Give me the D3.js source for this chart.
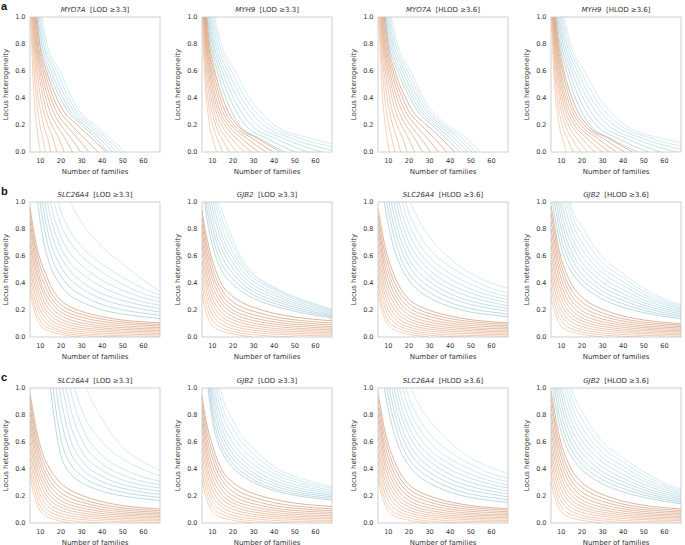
<!DOCTYPE html>
<html>
<head>
<meta charset="utf-8">
<script src="https://cdn.jsdelivr.net/npm/d3@7"></script>
<style>
  body { margin: 0; background: #fff; }
  svg { display: block; }
  text { font-family: "DejaVu Sans", sans-serif; fill: #333; }
</style>
</head>
<body>
<svg id="chart" width="685" height="545"></svg>
<script>
// titles
const geneNames = ["MYO7A", "MYH9", "MYO7A", "MYH9",
                   "SLC26A4", "GJB2", "SLC26A4", "GJB2",
                   "SLC26A4", "GJB2", "SLC26A4", "GJB2"]
const thresholds = ["[LOD \u22653.3]", "[LOD \u22653.3]", "[HLOD \u22653.6]", "[HLOD \u22653.6]",
                    "[LOD \u22653.3]", "[LOD \u22653.3]", "[HLOD \u22653.6]", "[HLOD \u22653.6]",
                    "[LOD \u22653.3]", "[LOD \u22653.3]", "[HLOD \u22653.6]", "[HLOD \u22653.6]"]
const rowLetters = ["a", "b", "c"]
const familyTicks = [10, 20, 30, 40, 50, 60]
const hetTicks = [0.0, 0.2, 0.4, 0.6, 0.8, 1.0]

// row a: number of families read at these heterogeneity levels
const hetLevels = [1.0, 0.8, 0.6, 0.4, 0.3, 0.2, 0.1, 0.0]
// rows b and c: heterogeneity read at these numbers of families
const familyLevels = [5, 6, 8, 10, 12, 15, 20, 25, 30, 40, 50, 60, 68]

// ---------- row a ----------
const a1Orange = [
    [5.3, 5.8, 6.3, 7.0, 7.5, 8.2, 9.0, 10.0],
    [5.6, 6.2, 7.0, 8.0, 8.8, 9.8, 11.2, 12.5],
    [5.9, 6.6, 7.7, 9.0, 10.2, 11.6, 13.6, 15.0],
    [6.2, 7.0, 8.4, 10.2, 11.6, 13.6, 16.2, 18.0],
    [6.5, 7.4, 9.1, 11.4, 13.0, 15.6, 19.0, 21.5],
    [6.8, 7.8, 9.8, 12.6, 14.6, 17.8, 22.0, 25.5],
    [7.1, 8.2, 10.5, 13.8, 16.2, 20.0, 25.0, 29.5],
    [7.5, 8.6, 11.3, 15.0, 17.8, 22.4, 28.2, 33.5],
    [7.9, 9.1, 12.1, 16.4, 19.6, 25.0, 31.5, 38.0],
    [8.4, 9.7, 13.0, 18.0, 21.5, 28.0, 35.0, 42.0]
]
const a1Blue = [
    [8.2, 10.0, 14.0, 19.7, 23.5, 30.0, 37.0, 43.0],
    [8.8, 10.8, 15.2, 21.0, 24.8, 31.5, 38.8, 45.0],
    [9.4, 11.6, 16.6, 22.4, 26.2, 33.2, 40.5, 47.0],
    [10.1, 12.4, 18.0, 23.8, 27.6, 34.8, 42.2, 49.0],
    [10.8, 13.3, 19.5, 25.3, 29.0, 36.5, 44.0, 51.0]
]
const a2Orange = [
    [5.2, 5.6, 6.2, 7.0, 7.8, 8.6, 10.2, 12.0],
    [5.4, 5.9, 6.7, 7.8, 8.8, 10.1, 12.4, 15.0],
    [5.6, 6.2, 7.2, 8.6, 9.8, 11.6, 14.6, 18.5],
    [5.8, 6.5, 7.7, 9.4, 10.8, 13.0, 16.9, 22.0],
    [6.0, 6.8, 8.2, 10.2, 11.8, 14.5, 19.3, 25.5],
    [6.2, 7.1, 8.7, 11.0, 12.8, 16.0, 21.7, 29.0],
    [6.4, 7.4, 9.2, 11.8, 13.8, 17.5, 24.2, 32.5],
    [6.7, 7.8, 9.8, 12.8, 15.0, 19.0, 26.8, 36.0],
    [7.0, 8.2, 10.5, 13.8, 16.2, 20.5, 29.5, 39.5],
    [7.3, 8.7, 11.2, 15.0, 17.6, 22.0, 32.0, 43.0]
]
const a2Blue = [
    [7.6, 9.3, 12.4, 16.5, 19.4, 23.0, 33.0, 45.0],
    [8.1, 10.0, 13.6, 18.4, 21.6, 26.0, 36.5, 50.0],
    [8.6, 10.7, 14.9, 20.3, 23.9, 28.8, 40.5, 56.0],
    [9.2, 11.5, 16.2, 22.2, 26.2, 31.8, 44.5, 63.0],
    [9.8, 12.4, 17.6, 24.1, 28.5, 34.8, 48.5, 72.0],
    [10.5, 13.3, 19.2, 26.0, 30.8, 37.5, 53.0, 85.0],
    [11.2, 14.3, 21.0, 28.0, 33.2, 40.0, 58.0, 100.0]
]
const a3Orange = [
    [5.4, 5.9, 6.5, 7.2, 7.8, 8.5, 9.4, 10.5],
    [5.7, 6.3, 7.2, 8.3, 9.1, 10.2, 11.7, 13.2],
    [6.0, 6.7, 7.9, 9.4, 10.6, 12.1, 14.2, 16.0],
    [6.3, 7.1, 8.6, 10.6, 12.0, 14.2, 17.0, 19.2],
    [6.6, 7.5, 9.3, 11.8, 13.5, 16.3, 19.8, 22.8],
    [6.9, 7.9, 10.0, 13.0, 15.1, 18.5, 22.8, 26.6],
    [7.2, 8.3, 10.7, 14.2, 16.7, 20.7, 25.8, 30.4],
    [7.6, 8.8, 11.5, 15.5, 18.3, 23.1, 29.0, 34.3],
    [8.0, 9.3, 12.3, 16.9, 20.1, 25.7, 32.4, 38.2],
    [8.5, 9.9, 13.2, 18.4, 22.0, 28.6, 35.8, 42.0]
]
const a3Blue = [
    [8.4, 10.3, 14.5, 20.5, 24.4, 31.0, 38.0, 44.5],
    [9.0, 11.1, 15.7, 21.8, 25.8, 32.6, 40.0, 46.5],
    [9.6, 11.9, 16.9, 23.1, 27.2, 34.2, 42.0, 48.5],
    [10.2, 12.7, 18.1, 24.4, 28.6, 35.6, 44.0, 50.5],
    [10.8, 13.5, 19.4, 25.7, 30.0, 37.0, 46.0, 52.5],
    [11.5, 14.4, 20.8, 27.0, 31.5, 38.5, 48.0, 54.5]
]
const a4Orange = [
    [5.2, 5.7, 6.3, 7.2, 8.0, 8.9, 10.6, 12.5],
    [5.4, 6.0, 6.8, 8.0, 9.0, 10.4, 12.9, 15.8],
    [5.6, 6.3, 7.3, 8.8, 10.0, 11.9, 15.2, 19.3],
    [5.8, 6.6, 7.8, 9.6, 11.0, 13.4, 17.5, 22.8],
    [6.0, 6.9, 8.3, 10.4, 12.0, 14.9, 20.0, 26.3],
    [6.2, 7.2, 8.8, 11.2, 13.0, 16.4, 22.5, 29.8],
    [6.4, 7.5, 9.3, 12.0, 14.1, 17.9, 25.0, 33.3],
    [6.7, 7.9, 9.9, 13.0, 15.3, 19.5, 27.6, 36.8],
    [7.0, 8.3, 10.6, 14.0, 16.5, 21.0, 30.3, 40.5],
    [7.3, 8.8, 11.3, 15.2, 18.0, 22.5, 33.0, 44.5]
]
const a4Blue = [
    [7.7, 9.4, 12.6, 16.8, 19.8, 23.8, 34.0, 47.0],
    [8.2, 10.1, 13.8, 18.7, 22.0, 26.8, 37.5, 52.0],
    [8.7, 10.9, 15.1, 20.6, 24.3, 29.6, 41.5, 58.0],
    [9.3, 11.7, 16.4, 22.5, 26.6, 32.6, 45.5, 66.0],
    [9.9, 12.6, 17.8, 24.4, 28.9, 35.6, 49.5, 76.0],
    [10.6, 13.5, 19.4, 26.3, 31.2, 38.3, 54.0, 90.0],
    [11.3, 14.5, 21.2, 28.3, 33.6, 40.8, 59.0, 110.0]
]

// ---------- row b ----------
const b1Orange = [
    [0.34, 0.26, 0.15, 0.09, 0.06, 0.04, 0.02, 0.008, 0.0, null, null, null, null],
    [0.40, 0.31, 0.19, 0.12, 0.085, 0.06, 0.035, 0.02, 0.012, 0.004, 0.0, null, null],
    [0.46, 0.37, 0.24, 0.16, 0.115, 0.08, 0.05, 0.034, 0.025, 0.015, 0.01, 0.007, 0.005],
    [0.52, 0.43, 0.29, 0.20, 0.15, 0.105, 0.068, 0.05, 0.04, 0.028, 0.022, 0.018, 0.016],
    [0.58, 0.48, 0.34, 0.245, 0.185, 0.13, 0.088, 0.066, 0.055, 0.041, 0.034, 0.029, 0.027],
    [0.64, 0.54, 0.39, 0.29, 0.22, 0.16, 0.11, 0.084, 0.07, 0.054, 0.045, 0.04, 0.037],
    [0.70, 0.60, 0.44, 0.335, 0.26, 0.19, 0.133, 0.103, 0.087, 0.067, 0.057, 0.051, 0.048],
    [0.76, 0.65, 0.49, 0.38, 0.30, 0.225, 0.158, 0.124, 0.105, 0.081, 0.069, 0.062, 0.059],
    [0.81, 0.71, 0.54, 0.42, 0.34, 0.26, 0.185, 0.147, 0.125, 0.097, 0.082, 0.074, 0.07],
    [0.86, 0.76, 0.59, 0.47, 0.39, 0.295, 0.212, 0.17, 0.146, 0.114, 0.097, 0.087, 0.082],
    [0.91, 0.81, 0.64, 0.52, 0.44, 0.335, 0.24, 0.195, 0.168, 0.132, 0.111, 0.099, 0.093],
    [0.96, 0.86, 0.69, 0.57, 0.49, 0.38, 0.27, 0.22, 0.19, 0.15, 0.125, 0.112, 0.105]
]
const b1Blue = [
    [null, null, 1.08, 0.85, 0.68, 0.52, 0.38, 0.30, 0.26, 0.20, 0.17, 0.15, 0.135],
    [null, null, 1.25, 0.98, 0.80, 0.61, 0.45, 0.36, 0.31, 0.24, 0.20, 0.177, 0.16],
    [null, null, null, 1.10, 0.90, 0.70, 0.52, 0.42, 0.36, 0.28, 0.235, 0.205, 0.185],
    [null, null, null, 1.22, 1.01, 0.79, 0.59, 0.48, 0.41, 0.32, 0.27, 0.233, 0.21],
    [null, null, null, null, 1.12, 0.89, 0.66, 0.54, 0.47, 0.37, 0.305, 0.26, 0.235],
    [null, null, null, null, 1.23, 0.99, 0.74, 0.61, 0.53, 0.42, 0.345, 0.29, 0.26],
    [null, null, null, null, null, 1.10, 0.83, 0.69, 0.60, 0.48, 0.39, 0.32, 0.285],
    [null, null, null, null, null, 1.22, 0.93, 0.77, 0.67, 0.54, 0.44, 0.36, 0.31],
    [null, null, null, null, null, null, 1.15, 0.98, 0.85, 0.665, 0.54, 0.42, 0.335]
]
const b2Orange = [
    [0.32, 0.24, 0.14, 0.085, 0.06, 0.04, 0.022, 0.01, 0.0, null, null, null, null],
    [0.38, 0.30, 0.19, 0.125, 0.09, 0.064, 0.04, 0.026, 0.017, 0.006, 0.0, null, null],
    [0.44, 0.36, 0.24, 0.165, 0.125, 0.09, 0.06, 0.043, 0.033, 0.021, 0.014, 0.01, 0.008],
    [0.50, 0.42, 0.29, 0.21, 0.16, 0.118, 0.082, 0.062, 0.05, 0.035, 0.027, 0.022, 0.02],
    [0.56, 0.48, 0.34, 0.25, 0.195, 0.146, 0.104, 0.081, 0.067, 0.049, 0.04, 0.034, 0.031],
    [0.62, 0.53, 0.39, 0.29, 0.23, 0.175, 0.127, 0.10, 0.084, 0.064, 0.053, 0.046, 0.042],
    [0.68, 0.59, 0.44, 0.335, 0.27, 0.205, 0.15, 0.12, 0.102, 0.079, 0.066, 0.058, 0.053],
    [0.74, 0.64, 0.49, 0.38, 0.31, 0.24, 0.176, 0.142, 0.122, 0.095, 0.08, 0.07, 0.065],
    [0.79, 0.69, 0.54, 0.43, 0.35, 0.27, 0.20, 0.165, 0.142, 0.112, 0.094, 0.083, 0.077],
    [0.84, 0.74, 0.59, 0.47, 0.39, 0.305, 0.228, 0.19, 0.165, 0.13, 0.11, 0.097, 0.09],
    [0.89, 0.79, 0.64, 0.52, 0.43, 0.34, 0.26, 0.215, 0.19, 0.15, 0.127, 0.112, 0.104],
    [0.94, 0.84, 0.69, 0.57, 0.48, 0.38, 0.30, 0.25, 0.22, 0.175, 0.148, 0.13, 0.12]
]
const b2Blue = [
    [1.25, 1.05, 0.82, 0.68, 0.58, 0.48, 0.39, 0.33, 0.285, 0.23, 0.19, 0.16, 0.14],
    [1.35, 1.15, 0.90, 0.75, 0.64, 0.53, 0.43, 0.36, 0.31, 0.25, 0.205, 0.172, 0.148],
    [null, 1.26, 0.98, 0.82, 0.70, 0.585, 0.47, 0.39, 0.335, 0.27, 0.22, 0.183, 0.156],
    [null, null, 1.07, 0.89, 0.76, 0.64, 0.51, 0.42, 0.36, 0.29, 0.235, 0.195, 0.165],
    [null, null, 1.16, 0.96, 0.83, 0.69, 0.55, 0.45, 0.385, 0.31, 0.25, 0.207, 0.174],
    [null, null, 1.26, 1.04, 0.89, 0.74, 0.59, 0.48, 0.41, 0.33, 0.265, 0.219, 0.183],
    [null, null, null, 1.12, 0.96, 0.80, 0.63, 0.51, 0.435, 0.35, 0.28, 0.23, 0.192],
    [null, null, null, 1.20, 1.02, 0.86, 0.675, 0.535, 0.455, 0.36, 0.29, 0.238, 0.198],
    [null, null, null, null, 1.07, 0.92, 0.72, 0.56, 0.47, 0.37, 0.30, 0.245, 0.205]
]
const b3Orange = [
    [0.33, 0.25, 0.145, 0.088, 0.06, 0.04, 0.02, 0.008, 0.0, null, null, null, null],
    [0.39, 0.30, 0.185, 0.12, 0.087, 0.062, 0.037, 0.022, 0.013, 0.004, 0.0, null, null],
    [0.45, 0.36, 0.235, 0.16, 0.12, 0.085, 0.054, 0.037, 0.027, 0.016, 0.011, 0.008, 0.006],
    [0.51, 0.42, 0.285, 0.20, 0.155, 0.11, 0.073, 0.054, 0.043, 0.03, 0.023, 0.019, 0.017],
    [0.57, 0.48, 0.335, 0.245, 0.19, 0.137, 0.093, 0.071, 0.058, 0.043, 0.035, 0.03, 0.028],
    [0.63, 0.54, 0.385, 0.29, 0.228, 0.166, 0.115, 0.089, 0.074, 0.056, 0.047, 0.041, 0.038],
    [0.69, 0.60, 0.44, 0.335, 0.268, 0.197, 0.138, 0.108, 0.091, 0.07, 0.059, 0.052, 0.049],
    [0.75, 0.66, 0.49, 0.38, 0.31, 0.232, 0.163, 0.13, 0.11, 0.085, 0.071, 0.063, 0.06],
    [0.80, 0.71, 0.54, 0.43, 0.35, 0.268, 0.19, 0.153, 0.13, 0.101, 0.085, 0.076, 0.071],
    [0.85, 0.76, 0.59, 0.48, 0.395, 0.305, 0.218, 0.177, 0.152, 0.118, 0.099, 0.088, 0.082],
    [0.90, 0.81, 0.645, 0.53, 0.44, 0.345, 0.248, 0.202, 0.174, 0.136, 0.114, 0.101, 0.094],
    [0.95, 0.87, 0.70, 0.58, 0.49, 0.385, 0.28, 0.228, 0.197, 0.155, 0.128, 0.113, 0.105]
]
const b3Blue = [
    [null, null, 1.0, 0.83, 0.70, 0.56, 0.42, 0.34, 0.29, 0.225, 0.185, 0.163, 0.15],
    [null, null, 1.12, 0.93, 0.79, 0.63, 0.47, 0.385, 0.33, 0.255, 0.21, 0.185, 0.17],
    [null, null, 1.24, 1.03, 0.87, 0.70, 0.53, 0.43, 0.37, 0.29, 0.24, 0.21, 0.19],
    [null, null, null, 1.13, 0.96, 0.77, 0.58, 0.475, 0.41, 0.32, 0.265, 0.232, 0.21],
    [null, null, null, 1.24, 1.05, 0.85, 0.64, 0.525, 0.45, 0.355, 0.295, 0.256, 0.232],
    [null, null, null, null, 1.14, 0.93, 0.70, 0.575, 0.495, 0.39, 0.325, 0.28, 0.255],
    [null, null, null, null, 1.24, 1.01, 0.77, 0.63, 0.54, 0.43, 0.355, 0.305, 0.278],
    [null, null, null, null, null, 1.10, 0.84, 0.69, 0.59, 0.47, 0.39, 0.33, 0.30],
    [null, null, null, null, null, 1.20, 0.92, 0.76, 0.65, 0.52, 0.43, 0.36, 0.325],
    [null, null, null, null, null, null, 1.02, 0.86, 0.74, 0.58, 0.47, 0.40, 0.36]
]
const b4Orange = [
    [0.30, 0.23, 0.135, 0.08, 0.055, 0.036, 0.02, 0.009, 0.0, null, null, null, null],
    [0.37, 0.29, 0.18, 0.12, 0.085, 0.06, 0.037, 0.024, 0.015, 0.005, 0.0, null, null],
    [0.44, 0.35, 0.23, 0.16, 0.118, 0.085, 0.056, 0.04, 0.03, 0.018, 0.012, 0.008, 0.006],
    [0.50, 0.41, 0.28, 0.20, 0.152, 0.112, 0.077, 0.058, 0.046, 0.032, 0.024, 0.019, 0.017],
    [0.56, 0.47, 0.33, 0.245, 0.188, 0.14, 0.098, 0.076, 0.062, 0.045, 0.035, 0.03, 0.027],
    [0.62, 0.53, 0.38, 0.29, 0.225, 0.168, 0.12, 0.094, 0.078, 0.058, 0.047, 0.04, 0.037],
    [0.68, 0.59, 0.435, 0.335, 0.265, 0.2, 0.143, 0.113, 0.095, 0.071, 0.058, 0.05, 0.047],
    [0.74, 0.65, 0.49, 0.38, 0.305, 0.233, 0.168, 0.134, 0.113, 0.085, 0.07, 0.061, 0.057],
    [0.80, 0.71, 0.545, 0.43, 0.35, 0.27, 0.195, 0.157, 0.133, 0.10, 0.082, 0.072, 0.067],
    [0.86, 0.77, 0.60, 0.48, 0.395, 0.305, 0.225, 0.182, 0.155, 0.117, 0.096, 0.084, 0.077],
    [0.92, 0.83, 0.655, 0.53, 0.44, 0.345, 0.26, 0.21, 0.178, 0.135, 0.11, 0.096, 0.087],
    [0.97, 0.89, 0.71, 0.58, 0.49, 0.39, 0.295, 0.24, 0.205, 0.155, 0.126, 0.108, 0.097]
]
const b4Blue = [
    [1.15, 0.98, 0.80, 0.66, 0.57, 0.48, 0.385, 0.325, 0.28, 0.22, 0.18, 0.152, 0.135],
    [1.30, 1.10, 0.88, 0.73, 0.63, 0.53, 0.425, 0.36, 0.31, 0.245, 0.198, 0.166, 0.148],
    [null, 1.22, 0.96, 0.80, 0.69, 0.58, 0.465, 0.395, 0.34, 0.27, 0.217, 0.18, 0.16],
    [null, null, 1.04, 0.87, 0.75, 0.63, 0.51, 0.43, 0.37, 0.295, 0.236, 0.195, 0.172],
    [null, null, 1.12, 0.94, 0.81, 0.69, 0.555, 0.47, 0.405, 0.32, 0.255, 0.21, 0.184],
    [null, null, 1.21, 1.01, 0.88, 0.745, 0.60, 0.51, 0.44, 0.35, 0.275, 0.225, 0.196],
    [null, null, null, 1.09, 0.95, 0.80, 0.65, 0.55, 0.475, 0.38, 0.295, 0.24, 0.208],
    [null, null, null, 1.17, 1.02, 0.86, 0.70, 0.59, 0.51, 0.41, 0.315, 0.252, 0.218],
    [null, null, null, 1.25, 1.09, 0.91, 0.76, 0.64, 0.55, 0.44, 0.338, 0.266, 0.229],
    [null, null, null, null, 1.15, 0.96, 0.82, 0.69, 0.59, 0.47, 0.36, 0.28, 0.24]
]

// ---------- row c ----------
const c1Orange = [
    [0.36, 0.27, 0.155, 0.09, 0.058, 0.035, 0.015, 0.0, null, null, null, null, null],
    [0.42, 0.33, 0.20, 0.125, 0.085, 0.055, 0.03, 0.017, 0.009, 0.0, null, null, null],
    [0.48, 0.39, 0.25, 0.165, 0.118, 0.08, 0.05, 0.035, 0.026, 0.015, 0.009, 0.006, 0.004],
    [0.54, 0.45, 0.30, 0.205, 0.152, 0.107, 0.071, 0.053, 0.042, 0.029, 0.022, 0.018, 0.016],
    [0.60, 0.51, 0.35, 0.25, 0.19, 0.136, 0.093, 0.071, 0.058, 0.042, 0.034, 0.029, 0.027],
    [0.66, 0.56, 0.40, 0.295, 0.228, 0.166, 0.116, 0.09, 0.075, 0.056, 0.046, 0.04, 0.037],
    [0.72, 0.62, 0.45, 0.34, 0.268, 0.198, 0.14, 0.11, 0.093, 0.07, 0.058, 0.051, 0.047],
    [0.77, 0.67, 0.50, 0.385, 0.31, 0.232, 0.166, 0.131, 0.112, 0.085, 0.07, 0.062, 0.058],
    [0.82, 0.72, 0.55, 0.43, 0.35, 0.268, 0.194, 0.154, 0.132, 0.101, 0.083, 0.073, 0.068],
    [0.87, 0.77, 0.60, 0.475, 0.39, 0.305, 0.224, 0.18, 0.154, 0.118, 0.097, 0.085, 0.079],
    [0.92, 0.82, 0.65, 0.52, 0.435, 0.345, 0.257, 0.208, 0.178, 0.136, 0.112, 0.098, 0.091],
    [0.96, 0.87, 0.70, 0.57, 0.48, 0.39, 0.295, 0.24, 0.205, 0.158, 0.128, 0.112, 0.104]
]
const c1Blue = [
    [null, null, null, null, 1.45, 0.99, 0.50, 0.36, 0.30, 0.235, 0.20, 0.18, 0.166],
    [null, null, null, null, 1.60, 1.15, 0.62, 0.43, 0.35, 0.27, 0.228, 0.203, 0.19],
    [null, null, null, null, null, 1.30, 0.77, 0.51, 0.405, 0.305, 0.256, 0.227, 0.213],
    [null, null, null, null, null, 1.45, 0.92, 0.60, 0.465, 0.345, 0.285, 0.252, 0.236],
    [null, null, null, null, null, null, 1.07, 0.71, 0.535, 0.39, 0.318, 0.278, 0.26],
    [null, null, null, null, null, null, 1.22, 0.83, 0.62, 0.44, 0.355, 0.306, 0.285],
    [null, null, null, null, null, null, 1.38, 0.96, 0.72, 0.50, 0.40, 0.34, 0.31],
    [null, null, null, null, null, null, null, 1.08, 0.84, 0.60, 0.475, 0.395, 0.35],
    [null, null, null, null, null, null, null, 1.50, 1.12, 0.77, 0.56, 0.45, 0.39]
]
const c2Orange = [
    [0.32, 0.24, 0.14, 0.085, 0.058, 0.038, 0.02, 0.009, 0.0, null, null, null, null],
    [0.38, 0.30, 0.185, 0.12, 0.087, 0.061, 0.037, 0.024, 0.015, 0.005, 0.0, null, null],
    [0.44, 0.36, 0.235, 0.16, 0.12, 0.087, 0.057, 0.041, 0.031, 0.019, 0.013, 0.009, 0.007],
    [0.50, 0.42, 0.285, 0.20, 0.155, 0.114, 0.079, 0.06, 0.048, 0.034, 0.026, 0.021, 0.019],
    [0.56, 0.48, 0.335, 0.245, 0.19, 0.142, 0.101, 0.079, 0.065, 0.048, 0.039, 0.033, 0.03],
    [0.62, 0.53, 0.385, 0.29, 0.228, 0.172, 0.124, 0.098, 0.082, 0.062, 0.051, 0.045, 0.042],
    [0.68, 0.59, 0.435, 0.335, 0.268, 0.203, 0.148, 0.118, 0.10, 0.077, 0.064, 0.057, 0.053],
    [0.74, 0.64, 0.485, 0.38, 0.31, 0.237, 0.174, 0.14, 0.12, 0.093, 0.078, 0.07, 0.065],
    [0.79, 0.69, 0.535, 0.43, 0.35, 0.272, 0.202, 0.164, 0.142, 0.11, 0.093, 0.083, 0.078],
    [0.84, 0.74, 0.585, 0.48, 0.395, 0.31, 0.232, 0.19, 0.165, 0.129, 0.109, 0.097, 0.091],
    [0.89, 0.79, 0.635, 0.53, 0.44, 0.348, 0.265, 0.218, 0.19, 0.15, 0.126, 0.112, 0.105],
    [0.94, 0.84, 0.685, 0.58, 0.485, 0.385, 0.30, 0.25, 0.218, 0.175, 0.147, 0.131, 0.122]
]
const c2Blue = [
    [null, 1.30, 0.99, 0.76, 0.63, 0.515, 0.41, 0.345, 0.30, 0.24, 0.205, 0.183, 0.17],
    [null, 1.40, 1.07, 0.82, 0.68, 0.555, 0.44, 0.37, 0.32, 0.255, 0.218, 0.195, 0.182],
    [null, null, 1.15, 0.88, 0.73, 0.60, 0.475, 0.40, 0.345, 0.275, 0.233, 0.208, 0.194],
    [null, null, 1.24, 0.95, 0.79, 0.645, 0.51, 0.43, 0.37, 0.295, 0.249, 0.221, 0.206],
    [null, null, 1.33, 1.02, 0.85, 0.69, 0.55, 0.465, 0.40, 0.315, 0.266, 0.235, 0.218],
    [null, null, null, 1.10, 0.91, 0.74, 0.595, 0.50, 0.435, 0.34, 0.285, 0.25, 0.231],
    [null, null, null, 1.19, 0.98, 0.80, 0.645, 0.54, 0.47, 0.365, 0.305, 0.265, 0.244],
    [null, null, null, 1.30, 1.06, 0.86, 0.70, 0.585, 0.51, 0.39, 0.325, 0.282, 0.257],
    [null, null, null, 1.45, 1.15, 0.93, 0.76, 0.63, 0.55, 0.415, 0.345, 0.30, 0.27]
]
const c3Orange = [
    [0.34, 0.255, 0.15, 0.09, 0.061, 0.04, 0.021, 0.009, 0.0, null, null, null, null],
    [0.40, 0.31, 0.19, 0.123, 0.089, 0.063, 0.038, 0.023, 0.014, 0.004, 0.0, null, null],
    [0.46, 0.37, 0.24, 0.163, 0.122, 0.087, 0.056, 0.039, 0.029, 0.017, 0.012, 0.009, 0.007],
    [0.52, 0.43, 0.29, 0.205, 0.158, 0.113, 0.076, 0.056, 0.045, 0.031, 0.024, 0.02, 0.018],
    [0.58, 0.49, 0.34, 0.25, 0.194, 0.14, 0.096, 0.073, 0.06, 0.044, 0.036, 0.031, 0.029],
    [0.64, 0.55, 0.39, 0.295, 0.232, 0.17, 0.118, 0.091, 0.076, 0.057, 0.048, 0.042, 0.039],
    [0.70, 0.61, 0.445, 0.34, 0.272, 0.20, 0.141, 0.11, 0.093, 0.071, 0.06, 0.053, 0.05],
    [0.76, 0.67, 0.495, 0.385, 0.314, 0.236, 0.166, 0.132, 0.112, 0.086, 0.072, 0.064, 0.061],
    [0.81, 0.72, 0.545, 0.435, 0.355, 0.272, 0.194, 0.155, 0.132, 0.102, 0.086, 0.077, 0.072],
    [0.86, 0.77, 0.595, 0.485, 0.40, 0.31, 0.222, 0.18, 0.154, 0.119, 0.10, 0.089, 0.083],
    [0.91, 0.82, 0.65, 0.535, 0.445, 0.35, 0.253, 0.205, 0.176, 0.137, 0.115, 0.102, 0.095],
    [0.96, 0.88, 0.705, 0.585, 0.495, 0.39, 0.285, 0.231, 0.20, 0.156, 0.129, 0.114, 0.106]
]
const c3Blue = [
    [null, null, 1.0, 0.84, 0.71, 0.565, 0.425, 0.345, 0.295, 0.228, 0.188, 0.166, 0.152],
    [null, null, 1.12, 0.94, 0.80, 0.64, 0.475, 0.39, 0.335, 0.26, 0.214, 0.188, 0.172],
    [null, null, 1.24, 1.04, 0.88, 0.71, 0.535, 0.435, 0.375, 0.293, 0.243, 0.213, 0.193],
    [null, null, null, 1.14, 0.97, 0.78, 0.59, 0.48, 0.415, 0.325, 0.27, 0.236, 0.214],
    [null, null, null, 1.25, 1.06, 0.86, 0.65, 0.53, 0.457, 0.36, 0.30, 0.26, 0.237],
    [null, null, null, null, 1.15, 0.94, 0.71, 0.58, 0.50, 0.395, 0.33, 0.285, 0.26],
    [null, null, null, null, 1.25, 1.02, 0.78, 0.635, 0.545, 0.435, 0.36, 0.31, 0.283],
    [null, null, null, null, null, 1.11, 0.85, 0.70, 0.60, 0.475, 0.395, 0.337, 0.306],
    [null, null, null, null, null, 1.21, 0.93, 0.77, 0.66, 0.525, 0.435, 0.365, 0.332],
    [null, null, null, null, null, null, 1.03, 0.87, 0.76, 0.595, 0.48, 0.41, 0.365]
]
const c4Orange = [
    [0.31, 0.235, 0.138, 0.082, 0.056, 0.037, 0.02, 0.009, 0.0, null, null, null, null],
    [0.38, 0.295, 0.183, 0.122, 0.087, 0.061, 0.038, 0.025, 0.016, 0.005, 0.0, null, null],
    [0.45, 0.355, 0.233, 0.162, 0.12, 0.087, 0.057, 0.041, 0.031, 0.019, 0.012, 0.008, 0.006],
    [0.51, 0.415, 0.283, 0.203, 0.155, 0.114, 0.079, 0.06, 0.048, 0.033, 0.025, 0.02, 0.018],
    [0.57, 0.475, 0.333, 0.248, 0.19, 0.142, 0.10, 0.078, 0.064, 0.046, 0.036, 0.031, 0.028],
    [0.63, 0.535, 0.385, 0.293, 0.228, 0.171, 0.122, 0.096, 0.08, 0.059, 0.048, 0.041, 0.038],
    [0.69, 0.595, 0.44, 0.338, 0.268, 0.203, 0.146, 0.115, 0.097, 0.073, 0.06, 0.052, 0.048],
    [0.75, 0.655, 0.495, 0.385, 0.31, 0.237, 0.171, 0.137, 0.116, 0.088, 0.072, 0.063, 0.059],
    [0.81, 0.715, 0.55, 0.435, 0.355, 0.274, 0.199, 0.161, 0.137, 0.104, 0.085, 0.075, 0.07],
    [0.87, 0.775, 0.605, 0.485, 0.40, 0.31, 0.23, 0.187, 0.16, 0.121, 0.099, 0.087, 0.081],
    [0.93, 0.835, 0.66, 0.535, 0.445, 0.35, 0.265, 0.216, 0.184, 0.14, 0.114, 0.10, 0.092],
    [0.98, 0.895, 0.715, 0.585, 0.495, 0.395, 0.30, 0.246, 0.211, 0.161, 0.131, 0.114, 0.104]
]
const c4Blue = [
    [1.15, 0.99, 0.81, 0.67, 0.58, 0.49, 0.395, 0.335, 0.29, 0.23, 0.19, 0.16, 0.142],
    [1.28, 1.10, 0.88, 0.74, 0.64, 0.54, 0.435, 0.37, 0.32, 0.255, 0.208, 0.174, 0.154],
    [null, 1.21, 0.96, 0.81, 0.70, 0.59, 0.475, 0.405, 0.35, 0.28, 0.226, 0.188, 0.166],
    [null, null, 1.04, 0.88, 0.76, 0.64, 0.52, 0.44, 0.38, 0.305, 0.245, 0.202, 0.178],
    [null, null, 1.12, 0.95, 0.82, 0.695, 0.565, 0.48, 0.415, 0.33, 0.265, 0.217, 0.19],
    [null, null, 1.21, 1.02, 0.89, 0.75, 0.61, 0.52, 0.45, 0.36, 0.286, 0.232, 0.202],
    [null, null, null, 1.10, 0.96, 0.81, 0.66, 0.56, 0.485, 0.39, 0.308, 0.248, 0.214],
    [null, null, null, 1.18, 1.03, 0.87, 0.71, 0.60, 0.52, 0.42, 0.33, 0.264, 0.226],
    [null, null, null, 1.26, 1.10, 0.93, 0.77, 0.65, 0.56, 0.45, 0.355, 0.28, 0.238],
    [null, null, null, null, 1.17, 0.99, 0.83, 0.70, 0.60, 0.48, 0.38, 0.296, 0.25]
]

const panelOrange = [a1Orange, a2Orange, a3Orange, a4Orange, b1Orange, b2Orange, b3Orange, b4Orange,
                     c1Orange, c2Orange, c3Orange, c4Orange]
const panelBlue = [a1Blue, a2Blue, a3Blue, a4Blue, b1Blue, b2Blue, b3Blue, b4Blue,
                   c1Blue, c2Blue, c3Blue, c4Blue]

// layout
const colLeft = [30, 202, 378, 551]
const rowTop = [17, 202, 388]
const panelW = 130
const panelH = 135

const svg = d3.select("#chart")

const xScale = d3.scaleLinear().domain([5, 68]).range([0, panelW])
const yScale = d3.scaleLinear().domain([0, 1]).range([panelH, 0])

const orangeColor = d3.interpolateRgb("#f2b995", "#c98c66")
const blueColor = d3.interpolateRgb("#98c4d1", "#bfe1ea")

const line = d3.line()
    .defined(d => d[0] != null && d[1] != null)
    .x(d => xScale(d[0]))
    .y(d => yScale(d[1]))
    .curve(d3.curveMonotoneX)

// row a lines are families at each het level, rows b/c are het at each family level
const toPoints = (vals, row) => row === 0
    ? hetLevels.map((h, i) => [vals[i], h])
    : familyLevels.map((f, i) => [f, vals[i]])

rowLetters.forEach((letter, r) => {
    svg.append("text")
        .attr("x", 1)
        .attr("y", rowTop[r] - 7)
        .style("font-family", "'Liberation Sans', Arial, sans-serif")
        .style("font-weight", "bold")
        .style("font-size", "11px")
        .style("fill", "#111")
        .text(letter)
})

for (let p = 0; p < 12; p++) {
    const r = Math.floor(p / 4)
    const c = p % 4
    const g = svg.append("g")
        .attr("transform", `translate(${colLeft[c]},${rowTop[r]})`)

    g.append("clipPath")
        .attr("id", "clip" + p)
        .append("rect")
        .attr("width", panelW)
        .attr("height", panelH)

    const plot = g.append("g").attr("clip-path", `url(#clip${p})`)

    const oranges = panelOrange[p]
    oranges.forEach((vals, i) => {
        plot.append("path")
            .attr("d", line(toPoints(vals, r)))
            .attr("fill", "none")
            .attr("stroke", orangeColor(i / (oranges.length - 1)))
            .attr("stroke-width", 0.65)
    })
    const blues = panelBlue[p]
    blues.forEach((vals, i) => {
        plot.append("path")
            .attr("d", line(toPoints(vals, r)))
            .attr("fill", "none")
            .attr("stroke", blueColor(i / (blues.length - 1)))
            .attr("stroke-width", 0.65)
    })

    // frame
    g.append("rect")
        .attr("width", panelW)
        .attr("height", panelH)
        .attr("fill", "none")
        .attr("stroke", "#c4c4c4")
        .attr("stroke-width", 0.8)

    // tick labels
    g.selectAll(".xt")
        .data(familyTicks)
        .join("text")
        .attr("x", d => xScale(d))
        .attr("y", panelH + 10.5)
        .attr("text-anchor", "middle")
        .style("font-size", "6.5px")
        .text(d => d)

    g.selectAll(".yt")
        .data(hetTicks)
        .join("text")
        .attr("x", -4.5)
        .attr("y", d => yScale(d))
        .attr("dy", "0.35em")
        .attr("text-anchor", "end")
        .style("font-size", "6.5px")
        .text(d => d.toFixed(1))

    // axis labels
    g.append("text")
        .attr("x", panelW / 2)
        .attr("y", panelH + 21.5)
        .attr("text-anchor", "middle")
        .style("font-size", "7px")
        .text("Number of families")

    g.append("text")
        .attr("transform", `translate(-22.5,${panelH / 2}) rotate(-90)`)
        .attr("text-anchor", "middle")
        .style("font-size", "7px")
        .text("Locus heterogeneity")

    // title
    const title = g.append("text")
        .attr("x", panelW / 2)
        .attr("y", -5)
        .attr("text-anchor", "middle")
        .style("font-size", "7px")
    title.append("tspan").style("font-style", "italic").text(geneNames[p])
    title.append("tspan").text("\u00a0 " + thresholds[p])
}
</script>
</body>
</html>
